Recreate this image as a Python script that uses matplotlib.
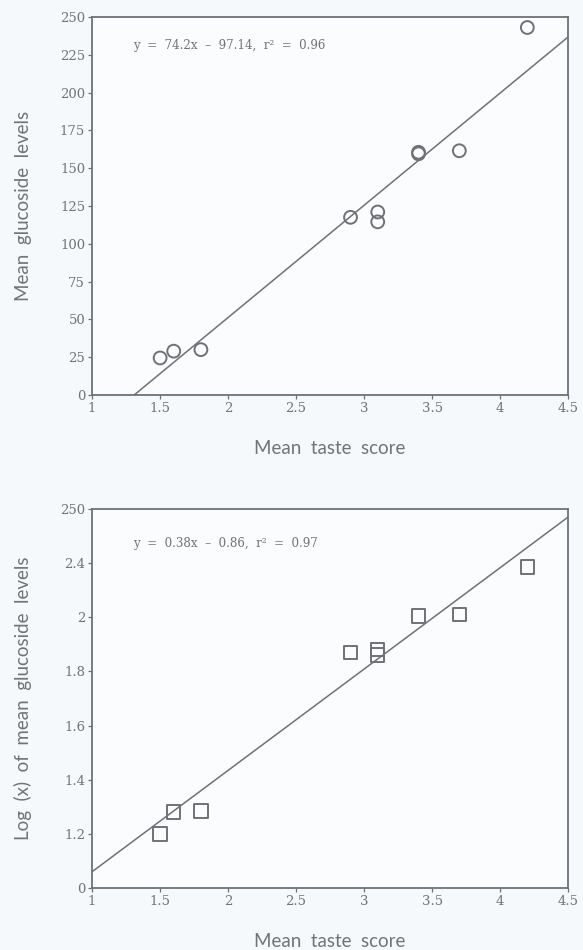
import numpy as np
import matplotlib
matplotlib.use("Agg")
import matplotlib.pyplot as plt

# ---- data (top panel) ----
taste_top = [1.5, 1.6, 1.8, 2.9, 3.1, 3.1, 3.4, 3.4, 3.7, 4.2]
gluc_top = [24.5, 29.0, 30.0, 117.5, 121.0, 114.5, 160.5, 159.5, 161.5, 243.0]
slope_top, icpt_top = 74.2, -97.14
yticks_top = [0, 25, 50, 75, 100, 125, 150, 175, 200, 225, 250]

# ---- data (bottom panel) ----
taste_bot = [1.5, 1.6, 1.8, 2.9, 3.1, 3.1, 3.4, 3.7, 4.2]
logg_bot = [1.20, 1.28, 1.285, 1.87, 1.88, 1.86, 2.01, 2.02, 2.37]
fit_bot_x = [1.0, 4.5]
fit_bot_y = [0.36, 2.74]
ytick_vals_bot = [0, 1.2, 1.4, 1.6, 1.8, 2.0, 2.4, 2.8]
ytick_labels_bot = ["0", "1.2", "1.4", "1.6", "1.8", "2", "2.4", "250"]

xticks = [1, 1.5, 2, 2.5, 3, 3.5, 4, 4.5]
xtick_labels = ["1", "1.5", "2", "2.5", "3", "3.5", "4", "4.5"]

GRAY = "#6e7175"
TXT = "#707377"
BG = "#f6f9fb"
LABFS = 13.5

fig = plt.figure(figsize=(5.83, 9.5), dpi=100, facecolor=BG)
ax1 = fig.add_axes([0.158, 0.5842, 0.8165, 0.398])
ax2 = fig.add_axes([0.158, 0.0653, 0.8165, 0.399])

def style(ax):
    ax.set_facecolor("#fbfcfd")
    for s in ax.spines.values():
        s.set_color(GRAY)
        s.set_linewidth(1.3)
    ax.tick_params(direction="out", length=3, width=0.9, colors=GRAY,
                   labelcolor=TXT, labelsize=9.5, pad=2)
    ax.set_xlim(1, 4.5)
    ax.set_xticks(xticks)
    ax.set_xticklabels(xtick_labels, family="DejaVu Serif")

# top panel
ax1.scatter(taste_top, gluc_top, s=85, facecolors="none", edgecolors=GRAY,
            linewidths=1.4, zorder=3)
xs = np.array([-icpt_top / slope_top, 4.5])
ax1.plot(xs, slope_top * xs + icpt_top, color=GRAY, lw=1.1)
ax1.set_ylim(0, 250)
ax1.set_yticks(yticks_top)
style(ax1)
ax1.set_yticklabels([str(v) for v in yticks_top], family="DejaVu Serif")
ax1.set_xlabel("Mean  taste  score", fontsize=LABFS, color=TXT, family="Lato", labelpad=18)
ax1.set_ylabel("Mean  glucoside  levels", fontsize=LABFS, color=TXT, family="Lato", labelpad=20)
ax1.text(0.085, 0.925, "y  =  74.2x  \u2013  97.14,  r\u00b2  =  0.96", transform=ax1.transAxes,
         fontsize=8.6, color=TXT, family="DejaVu Serif", va="center")

# bottom panel (non-linear label axis as printed)
pos = np.arange(len(ytick_vals_bot))
def to_pos(v):
    return np.interp(v, ytick_vals_bot, pos)

ax2.scatter(taste_bot, to_pos(logg_bot), s=95, marker="s", facecolors="none",
            edgecolors=GRAY, linewidths=1.4, zorder=3)
ax2.plot(fit_bot_x, to_pos(fit_bot_y), color=GRAY, lw=1.1)
ax2.set_ylim(0, pos[-1])
ax2.set_yticks(pos)
style(ax2)
ax2.set_yticklabels(ytick_labels_bot, family="DejaVu Serif")
ax2.set_xlabel("Mean  taste  score", fontsize=LABFS, color=TXT, family="Lato", labelpad=18)
ax2.set_ylabel("Log  (x)  of  mean  glucoside  levels", fontsize=LABFS, color=TXT,
               family="Lato", labelpad=20)
ax2.text(0.085, 0.91, "y  =  0.38x  \u2013  0.86,  r\u00b2  =  0.97", transform=ax2.transAxes,
         fontsize=8.6, color=TXT, family="DejaVu Serif", va="center")

fig.savefig("out.png", dpi=100, facecolor=BG)
